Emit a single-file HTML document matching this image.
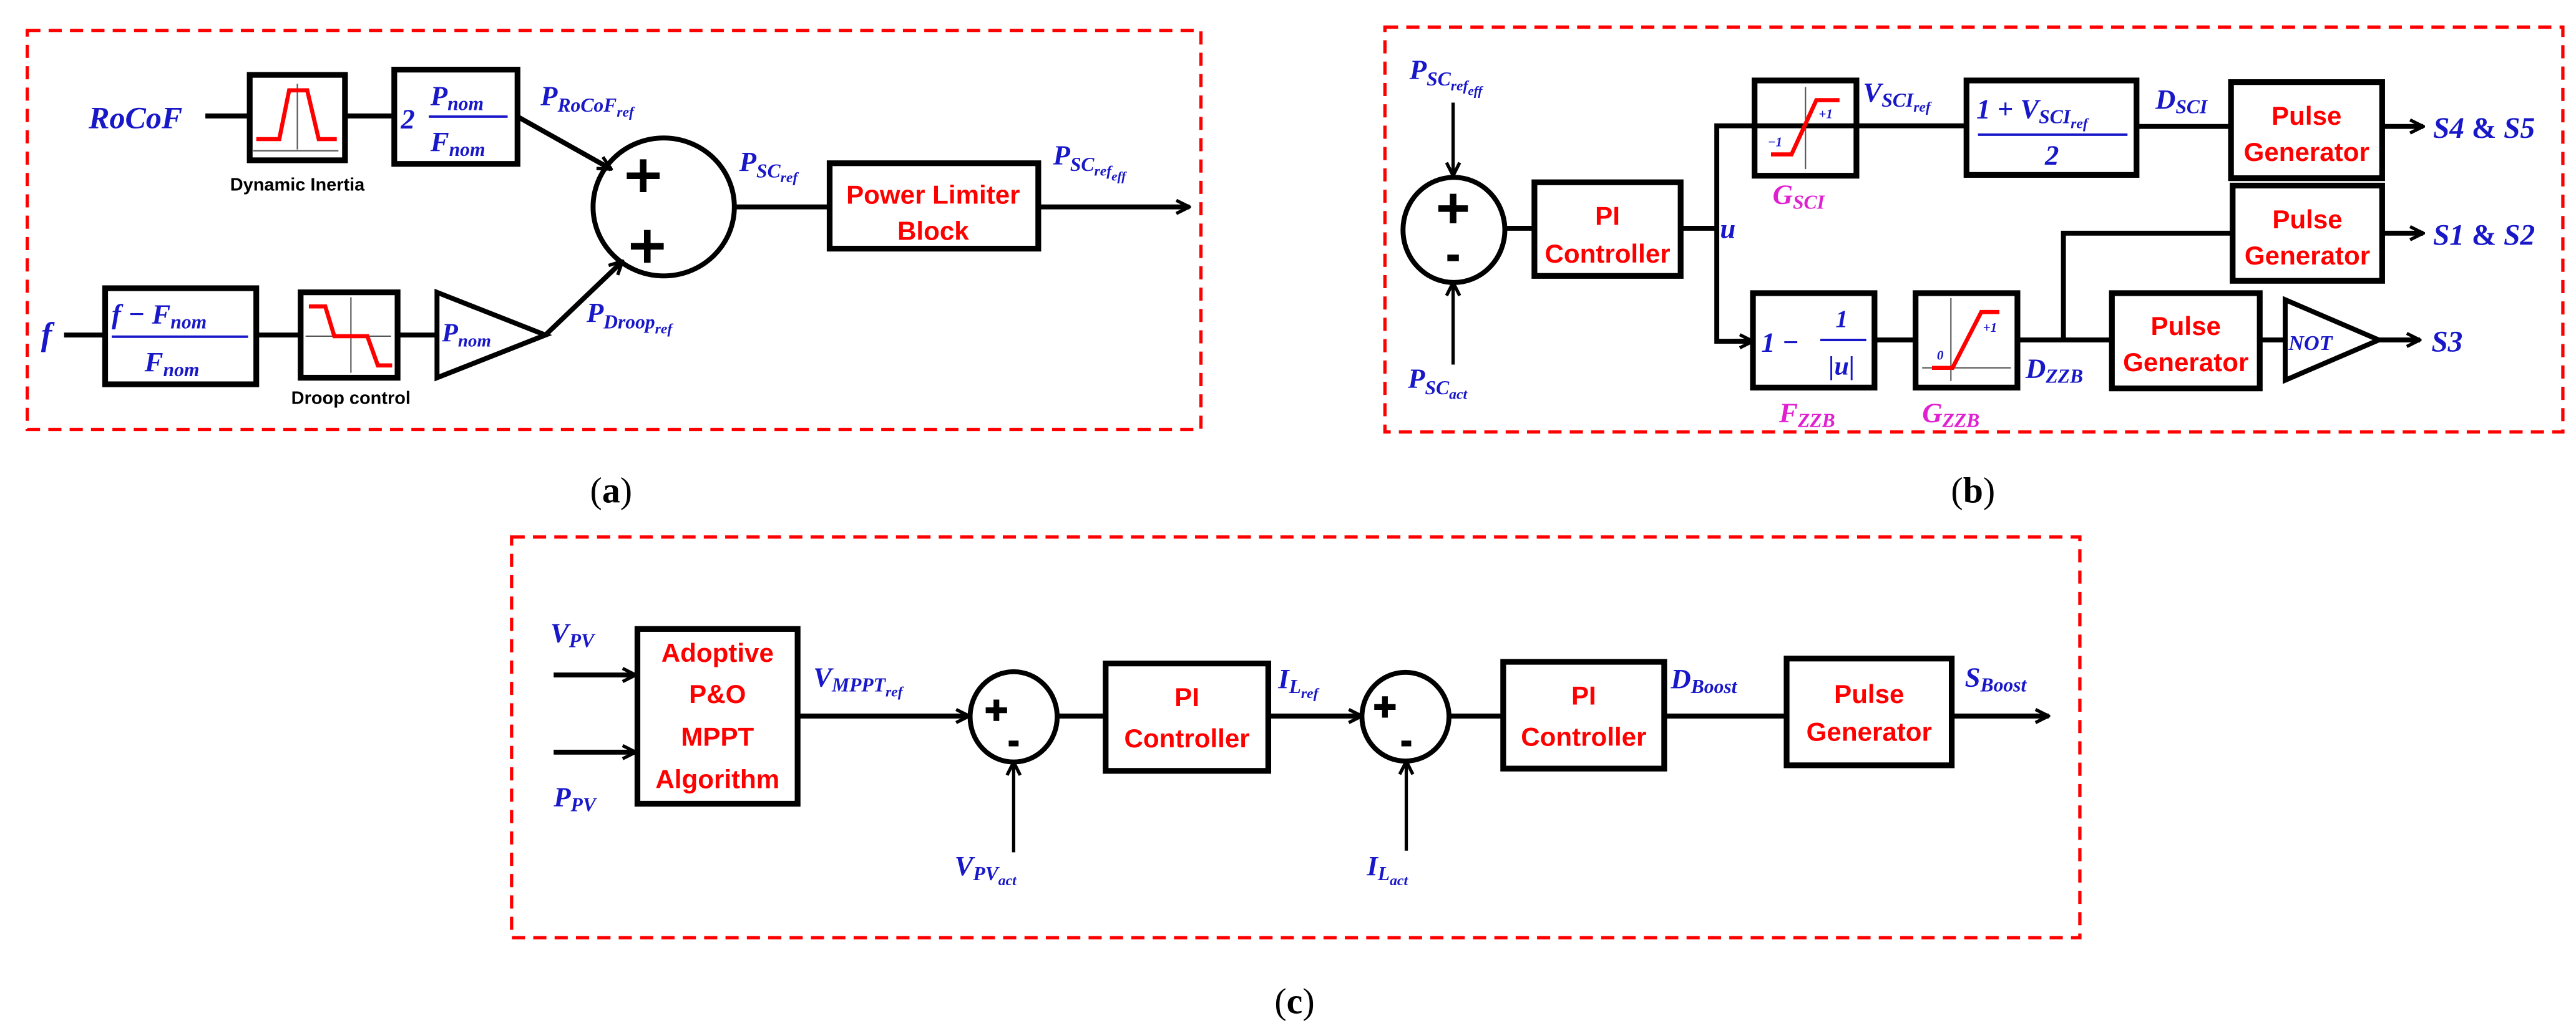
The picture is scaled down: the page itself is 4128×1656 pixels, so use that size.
<!DOCTYPE html>
<html><head><meta charset="utf-8"><style>
html,body{margin:0;padding:0;background:#fff;}
svg{display:block;}
.m{font-family:"Liberation Serif",serif;font-style:italic;font-weight:bold;fill:#1818c8;}
.g{font-family:"Liberation Serif",serif;font-style:italic;font-weight:bold;fill:#e020d0;}
.r{font-family:"Liberation Sans",sans-serif;font-weight:bold;fill:#ff0000;text-anchor:middle;}
.k{font-family:"Liberation Sans",sans-serif;font-weight:bold;fill:#000;text-anchor:middle;}
.cap{font-family:"Liberation Serif",serif;fill:#000;text-anchor:middle;font-size:22px;}
.b{fill:none;stroke:#000;stroke-width:3.5;}
.l{fill:none;stroke:#000;stroke-width:3;}
.t{fill:none;stroke:#000;stroke-width:2;}
.d{fill:none;stroke:#ff0000;stroke-width:2;stroke-dasharray:8,5;}
.red{fill:none;stroke:#ff0000;stroke-width:2.5;}
.thin{fill:none;stroke:#555;stroke-width:0.8;}
.fl{stroke:#1818c8;stroke-width:1.5;}
</style></head><body>
<svg width="4128" height="1656" viewBox="0 0 1568 629" preserveAspectRatio="none" xmlns="http://www.w3.org/2000/svg">
<defs>
<marker id="a" viewBox="0 0 10 10" refX="9" refY="5" markerWidth="10" markerHeight="10" markerUnits="userSpaceOnUse" orient="auto">
<path d="M1,1 L9,5 L1,9" fill="none" stroke="#000" stroke-width="2"/></marker>
</defs>
<rect width="1568" height="629" fill="#fff"/>

<!-- Panel a -->
<rect class="d" x="16.6" y="18.5" width="714.4" height="243"/>
<text class="m" x="54" y="78" font-size="19">RoCoF</text>
<line class="l" x1="125" y1="70.6" x2="152" y2="70.6"/>
<rect class="b" x="152" y="45.6" width="58" height="52"/>
<line class="thin" x1="181" y1="51" x2="181" y2="91"/>
<line class="thin" x1="154" y1="91.8" x2="206" y2="91.8"/>
<polyline class="red" points="156,84.7 170,84.7 176,55 187,55 194,84.7 205,84.7"/>
<text class="k" x="181" y="116" font-size="11">Dynamic Inertia</text>
<line class="l" x1="210" y1="70.6" x2="240" y2="70.6"/>
<rect class="b" x="240" y="42.4" width="75" height="57.4"/>
<text class="m" x="244" y="78" font-size="17">2</text>
<text class="m" x="262" y="64" font-size="17">P<tspan font-size="12" dy="3">nom</tspan></text>
<line class="fl" x1="261" y1="71" x2="309" y2="71"/>
<text class="m" x="262" y="92" font-size="17">F<tspan font-size="12" dy="3">nom</tspan></text>
<text class="m" x="329" y="64" font-size="17">P<tspan font-size="12" dy="4">RoCoF</tspan><tspan font-size="9" dy="3">ref</tspan></text>
<line class="l" x1="315" y1="71" x2="372" y2="103" marker-end="url(#a)"/>
<ellipse class="l" cx="404" cy="126" rx="43" ry="42"/>
<path d="M381.5,107 h20 M391.5,97 v20 M384,150 h20 M394,140 v20" stroke="#000" stroke-width="4" fill="none"/>
<line class="l" x1="447" y1="126" x2="505" y2="126"/>
<text class="m" x="450" y="104" font-size="17">P<tspan font-size="12" dy="4">SC</tspan><tspan font-size="9" dy="3">ref</tspan></text>
<rect class="b" x="505" y="99.4" width="127" height="52"/>
<text class="r" x="568" y="124" font-size="16">Power Limiter</text>
<text class="r" x="568" y="146" font-size="16">Block</text>
<line class="l" x1="632" y1="126" x2="724" y2="126" marker-end="url(#a)"/>
<text class="m" x="641" y="100" font-size="17">P<tspan font-size="12" dy="4">SC</tspan><tspan font-size="9" dy="3">ref</tspan><tspan font-size="8" dy="3">eff</tspan></text>
<text class="m" x="25" y="210" font-size="20">f</text>
<line class="l" x1="39" y1="204" x2="64" y2="204"/>
<rect class="b" x="64" y="175.5" width="92" height="58.5"/>
<text class="m" x="68" y="197" font-size="17">f − F<tspan font-size="12" dy="3">nom</tspan></text>
<line class="fl" x1="68" y1="205" x2="151" y2="205"/>
<text class="m" x="88" y="226" font-size="17">F<tspan font-size="12" dy="3">nom</tspan></text>
<line class="l" x1="156" y1="204" x2="183" y2="204"/>
<rect class="b" x="183" y="178" width="59" height="52"/>
<line class="thin" x1="213.6" y1="181" x2="213.6" y2="227"/>
<line class="thin" x1="186" y1="204.7" x2="238" y2="204.7"/>
<polyline class="red" points="188,186.6 198,186.6 203.5,204.7 223.6,204.7 230,222.5 238.7,222.5"/>
<text class="k" x="213.6" y="246" font-size="11">Droop control</text>
<line class="l" x1="242" y1="204" x2="266" y2="204"/>
<polygon class="l" points="266,178 332,204 266,230"/>
<text class="m" x="269" y="208" font-size="16">P<tspan font-size="11" dy="3">nom</tspan></text>
<line class="l" x1="332" y1="204" x2="379" y2="159" marker-end="url(#a)"/>
<text class="m" x="357" y="196" font-size="17">P<tspan font-size="12" dy="4">Droop</tspan><tspan font-size="9" dy="3">ref</tspan></text>
<text class="cap" x="372" y="306">(<tspan font-weight="bold">a</tspan>)</text>

<!-- Panel b -->
<rect class="d" x="843" y="16.5" width="717" height="246.5"/>
<text class="m" x="858" y="48" font-size="17">P<tspan font-size="12" dy="4">SC</tspan><tspan font-size="9" dy="3">ref</tspan><tspan font-size="8" dy="3">eff</tspan></text>
<line class="t" x1="884.5" y1="62.5" x2="884.5" y2="107" marker-end="url(#a)"/>
<ellipse class="l" cx="885" cy="140" rx="31" ry="32"/>
<path d="M875.5,127 h18 M884.5,118 v18 M881,157 h7" stroke="#000" stroke-width="4" fill="none"/>
<line class="t" x1="884.5" y1="222" x2="884.5" y2="172" marker-end="url(#a)"/>
<text class="m" x="857" y="236" font-size="17">P<tspan font-size="12" dy="4">SC</tspan><tspan font-size="9" dy="3">act</tspan></text>
<line class="l" x1="916" y1="139" x2="934" y2="139"/>
<rect class="b" x="934" y="111" width="89" height="57"/>
<text class="r" x="978.5" y="137" font-size="16">PI</text>
<text class="r" x="978.5" y="160" font-size="16">Controller</text>
<line class="l" x1="1023" y1="139" x2="1045" y2="139"/>
<text class="m" x="1047" y="145" font-size="17">u</text>
<polyline class="l" points="1197,76.6 1045,76.6 1045,207.8 1066,207.8"/>
<line class="l" x1="1055" y1="207.8" x2="1067" y2="207.8" marker-end="url(#a)"/>
<rect class="b" x="1068" y="49" width="62" height="58"/>
<line class="thin" x1="1099" y1="53" x2="1099" y2="103"/>
<polyline class="red" points="1078,94 1090.5,94 1105.6,61 1119.7,61"/>
<text class="m" x="1107" y="72" font-size="8" font-style="normal">+1</text>
<text class="m" x="1076" y="89" font-size="8" font-style="normal">−1</text>
<text class="g" x="1079" y="124" font-size="17">G<tspan font-size="12" dy="3">SCI</tspan></text>
<text class="m" x="1134" y="62" font-size="17">V<tspan font-size="12" dy="3">SCI</tspan><tspan font-size="9" dy="3">ref</tspan></text>
<rect class="b" x="1197" y="49" width="103.5" height="57.5"/>
<text class="m" x="1203" y="72" font-size="17" font-style="normal">1 + <tspan font-style="italic">V</tspan><tspan font-size="12" dy="3">SCI</tspan><tspan font-size="9" dy="3">ref</tspan></text>
<line class="fl" x1="1204" y1="82" x2="1295" y2="82"/>
<text class="m" x="1249" y="100" font-size="17" font-style="normal" text-anchor="middle">2</text>
<line class="l" x1="1300" y1="77" x2="1358" y2="77"/>
<text class="m" x="1312" y="66" font-size="17">D<tspan font-size="12" dy="3">SCI</tspan></text>
<rect class="b" x="1358" y="50" width="92" height="58.5"/>
<text class="r" x="1404" y="76" font-size="16">Pulse</text>
<text class="r" x="1404" y="98" font-size="16">Generator</text>
<line class="l" x1="1450" y1="77" x2="1475" y2="77" marker-end="url(#a)"/>
<text class="m" x="1481" y="84" font-size="18">S4 <tspan font-style="normal">&amp;</tspan> S5</text>
<rect class="b" x="1359" y="113" width="91" height="58"/>
<text class="r" x="1404.5" y="139" font-size="16">Pulse</text>
<text class="r" x="1404.5" y="161" font-size="16">Generator</text>
<line class="l" x1="1450" y1="142" x2="1475" y2="142" marker-end="url(#a)"/>
<text class="m" x="1481" y="149" font-size="18">S1 <tspan font-style="normal">&amp;</tspan> S2</text>
<polyline class="l" points="1256,207 1256,142 1359,142"/>
<rect class="b" x="1067" y="178.5" width="74" height="57.5"/>
<text class="m" x="1072" y="214" font-size="17" font-style="normal">1 −</text>
<text class="m" x="1121" y="199" font-size="15" font-style="normal" text-anchor="middle">1</text>
<line class="fl" x1="1108" y1="207" x2="1136" y2="207"/>
<text class="m" x="1121" y="228" font-size="16" text-anchor="middle">|u|</text>
<line class="l" x1="1141" y1="207" x2="1166" y2="207"/>
<rect class="b" x="1166" y="178.5" width="62" height="57.5"/>
<line class="thin" x1="1170" y1="224" x2="1224" y2="224"/>
<line class="thin" x1="1187.5" y1="181.5" x2="1187.5" y2="232"/>
<polyline class="red" points="1176,224 1188.5,224 1206,190 1217,190"/>
<text class="m" x="1207" y="202" font-size="8" font-style="normal">+1</text>
<text class="m" x="1179" y="219" font-size="8" font-style="normal">0</text>
<text class="g" x="1083" y="257" font-size="17">F<tspan font-size="12" dy="3">ZZB</tspan></text>
<text class="g" x="1170" y="257" font-size="17">G<tspan font-size="12" dy="3">ZZB</tspan></text>
<line class="l" x1="1228" y1="207" x2="1285" y2="207"/>
<text class="m" x="1233" y="230" font-size="17">D<tspan font-size="12" dy="3">ZZB</tspan></text>
<rect class="b" x="1285.5" y="178.5" width="90" height="58"/>
<text class="r" x="1330.5" y="204" font-size="16">Pulse</text>
<text class="r" x="1330.5" y="226" font-size="16">Generator</text>
<line class="l" x1="1375.5" y1="207" x2="1391" y2="207"/>
<polygon class="l" points="1391,182.5 1448,207 1391,231.5"/>
<text class="m" x="1393" y="213" font-size="13">NOT</text>
<line class="l" x1="1448" y1="207" x2="1473" y2="207" marker-end="url(#a)"/>
<text class="m" x="1480" y="214" font-size="18">S3</text>
<text class="cap" x="1201" y="306">(<tspan font-weight="bold">b</tspan>)</text>

<!-- Panel c -->
<rect class="d" x="311.4" y="327" width="954.6" height="244"/>
<text class="m" x="335" y="391" font-size="17">V<tspan font-size="12" dy="3">PV</tspan></text>
<line class="l" x1="337" y1="411" x2="387" y2="411" marker-end="url(#a)"/>
<line class="l" x1="337" y1="458" x2="387" y2="458" marker-end="url(#a)"/>
<text class="m" x="337" y="491" font-size="17">P<tspan font-size="12" dy="3">PV</tspan></text>
<rect class="b" x="388" y="383" width="97.5" height="106.4"/>
<text class="r" x="436.75" y="403" font-size="16">Adoptive</text>
<text class="r" x="436.75" y="428" font-size="16">P&amp;O</text>
<text class="r" x="436.75" y="454" font-size="16">MPPT</text>
<text class="r" x="436.75" y="480" font-size="16">Algorithm</text>
<line class="l" x1="485.5" y1="436" x2="590" y2="436" marker-end="url(#a)"/>
<text class="m" x="495" y="418" font-size="17">V<tspan font-size="12" dy="3">MPPT</tspan><tspan font-size="9" dy="3">ref</tspan></text>
<ellipse class="l" cx="617" cy="436.5" rx="26.5" ry="27.5"/>
<path d="M600,432.5 h13 M606.5,426 v13 M614,452.7 h6" stroke="#000" stroke-width="3.5" fill="none"/>
<line class="t" x1="617" y1="519" x2="617" y2="464" marker-end="url(#a)"/>
<text class="m" x="581" y="533" font-size="17">V<tspan font-size="12" dy="3">PV</tspan><tspan font-size="9" dy="3">act</tspan></text>
<line class="l" x1="644" y1="436" x2="673" y2="436"/>
<rect class="b" x="673" y="404" width="99" height="65.4"/>
<text class="r" x="722.5" y="430" font-size="16">PI</text>
<text class="r" x="722.5" y="455" font-size="16">Controller</text>
<line class="l" x1="772" y1="436" x2="829" y2="436" marker-end="url(#a)"/>
<text class="m" x="778" y="419" font-size="17">I<tspan font-size="12" dy="3">L</tspan><tspan font-size="9" dy="3">ref</tspan></text>
<ellipse class="l" cx="855.5" cy="436.4" rx="26.5" ry="27"/>
<path d="M836.5,430.5 h13 M843,424 v13 M853,452.7 h6" stroke="#000" stroke-width="3.5" fill="none"/>
<line class="t" x1="856" y1="518" x2="856" y2="463.5" marker-end="url(#a)"/>
<text class="m" x="832" y="533" font-size="17">I<tspan font-size="12" dy="3">L</tspan><tspan font-size="9" dy="3">act</tspan></text>
<line class="l" x1="882" y1="436" x2="915" y2="436"/>
<rect class="b" x="915" y="403" width="98" height="65"/>
<text class="r" x="964" y="429" font-size="16">PI</text>
<text class="r" x="964" y="454" font-size="16">Controller</text>
<line class="l" x1="1013" y1="436" x2="1087.5" y2="436"/>
<text class="m" x="1017" y="419" font-size="17">D<tspan font-size="12" dy="3">Boost</tspan></text>
<rect class="b" x="1087.5" y="401" width="100.5" height="65"/>
<text class="r" x="1137.75" y="428" font-size="16">Pulse</text>
<text class="r" x="1137.75" y="451" font-size="16">Generator</text>
<line class="l" x1="1188" y1="436" x2="1247" y2="436" marker-end="url(#a)"/>
<text class="m" x="1196" y="418" font-size="17">S<tspan font-size="12" dy="3">Boost</tspan></text>
<text class="cap" x="788" y="617">(<tspan font-weight="bold">c</tspan>)</text>
</svg>
</body></html>
